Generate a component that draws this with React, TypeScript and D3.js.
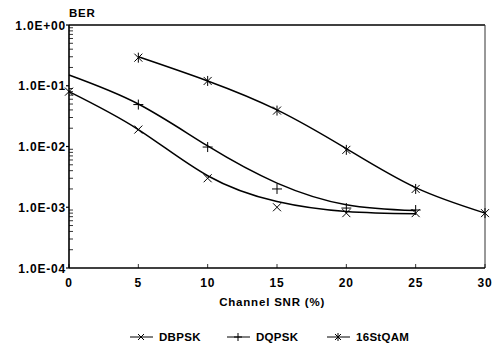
import * as d3 from 'd3';

// measured BER points (markers)
const snr = [0, 5, 10, 15, 20, 25, 30];
const dbpskPts = [0.08, 0.019, 0.003, 0.001, 0.0008, 0.0008];
const dqpskPts = [null, 0.049, 0.0098, 0.002, 0.00097, 0.0009];
const qamPts = [null, 0.29, 0.12, 0.039, 0.0088, 0.002, 0.0008];

// fitted curves
const dbpskFit = [0.08, 0.019, 0.0033, 0.00124, 0.00085, 0.00078];
const dqpskFit = [0.15, 0.05, 0.0102, 0.0025, 0.0011, 0.00088];
const qamFit = [null, 0.3, 0.12, 0.04, 0.0092, 0.0021, 0.0008];

const xTicks = [0, 5, 10, 15, 20, 25, 30];
const yTickLabels = ['1.0E+00', '1.0E-01', '1.0E-02', '1.0E-03', '1.0E-04'];
const yTickValues = [1, 0.1, 0.01, 0.001, 0.0001];

const seriesNames = ['DBPSK', 'DQPSK', '16StQAM'];

type Marker = 'x' | 'plus' | 'star';

function MarkerShape({ kind, cx, cy, s = 4 }: { kind: Marker; cx: number; cy: number; s?: number }) {
  const xs = (
    <>
      <line x1={cx - s} y1={cy - s} x2={cx + s} y2={cy + s} />
      <line x1={cx - s} y1={cy + s} x2={cx + s} y2={cy - s} />
    </>
  );
  const ps = (
    <>
      <line x1={cx - s - 1} y1={cy} x2={cx + s + 1} y2={cy} />
      <line x1={cx} y1={cy - s - 1} x2={cx} y2={cy + s + 1} />
    </>
  );
  return (
    <g stroke="#000" strokeWidth={1}>
      {kind === 'x' && xs}
      {kind === 'plus' && ps}
      {kind === 'star' && (
        <>
          {xs}
          <line x1={cx} y1={cy - s - 1} x2={cx} y2={cy + s + 1} />
        </>
      )}
    </g>
  );
}

export default function App() {
  const width = 493;
  const height = 348;
  const margin = { top: 25, left: 69 };
  const innerW = 485 - margin.left;
  const innerH = 268 - margin.top;

  const x = d3.scaleLinear().domain([0, 30]).range([0, innerW]);
  const y = d3.scaleLog().domain([1e-4, 1]).range([innerH, 0]);

  const minor: number[] = [];
  for (let e = -4; e < 0; e++) {
    for (let m = 2; m <= 9; m++) minor.push(m * Math.pow(10, e));
  }

  const line = d3
    .line<[number, number | null]>()
    .defined((d) => d[1] != null)
    .x((d) => x(d[0]))
    .y((d) => y(d[1] as number))
    .curve(d3.curveNatural);

  const series = [
    { name: seriesNames[0], pts: dbpskPts, fit: dbpskFit, marker: 'x' as Marker },
    { name: seriesNames[1], pts: dqpskPts, fit: dqpskFit, marker: 'plus' as Marker },
    { name: seriesNames[2], pts: qamPts, fit: qamFit, marker: 'star' as Marker },
  ];

  const font = '"Liberation Sans", Arial, Helvetica, sans-serif';
  const legendX = [130, 227, 327];

  return (
    <svg
      width={width}
      height={height}
      style={{ position: 'absolute', left: 0, top: 0, background: '#fff' }}
      fontFamily={font}
      fontWeight="bold"
      letterSpacing={0.8}
    >
      <text x={margin.left} y={17} fontSize={11.5}>BER</text>
      <g transform={`translate(${margin.left},${margin.top})`}>
        {/* frame */}
        <line x1={0} x2={innerW} y1={0} y2={0} stroke="#000" strokeWidth={1.6} />
        <line x1={innerW} x2={innerW} y1={0} y2={innerH} stroke="#333" strokeWidth={1} />
        <line x1={0} x2={innerW} y1={innerH} y2={innerH} stroke="#000" strokeWidth={1.6} />
        <line x1={0} x2={0} y1={0} y2={innerH} stroke="#000" strokeWidth={1.6} />

        {minor.map((v) => (
          <line key={v} x1={0} x2={4} y1={y(v)} y2={y(v)} stroke="#000" strokeWidth={0.8} />
        ))}
        {yTickValues.map((v, i) => (
          <g key={v}>
            <line x1={-3} x2={0} y1={y(v)} y2={y(v)} stroke="#000" strokeWidth={1.2} />
            <text x={-3} y={y(v)} dy="0.38em" textAnchor="end" fontSize={12}>
              {yTickLabels[i]}
            </text>
          </g>
        ))}
        {xTicks.map((t) => (
          <g key={t}>
            <line x1={x(t)} x2={x(t)} y1={innerH} y2={innerH - 4} stroke="#000" strokeWidth={0.8} />
            <text x={x(t)} y={innerH + 19} textAnchor="middle" fontSize={12}>
              {t}
            </text>
          </g>
        ))}
        <text x={x(14.65)} y={innerH + 38} textAnchor="middle" fontSize={11.5}>
          Channel SNR (%)
        </text>

        {series.map((s) => (
          <path
            key={s.name}
            d={line(s.fit.map((v, i) => [snr[i], v] as [number, number | null])) ?? ''}
            fill="none"
            stroke="#000"
            strokeWidth={1.5}
          />
        ))}
        {series.map((s) =>
          s.pts.map((v, i) =>
            v == null ? null : (
              <MarkerShape key={`${s.name}-${i}`} kind={s.marker} cx={x(snr[i])} cy={y(v)} />
            ),
          ),
        )}
      </g>

      {series.map((s, i) => (
        <g key={s.name}>
          <line x1={legendX[i]} x2={legendX[i] + 23} y1={337} y2={337} stroke="#000" strokeWidth={1} />
          <MarkerShape kind={s.marker} cx={legendX[i] + 11} cy={337} s={3} />
          <text x={legendX[i] + 29} y={341} fontSize={11.5} letterSpacing={0.3}>
            {s.name}
          </text>
        </g>
      ))}
    </svg>
  );
}
